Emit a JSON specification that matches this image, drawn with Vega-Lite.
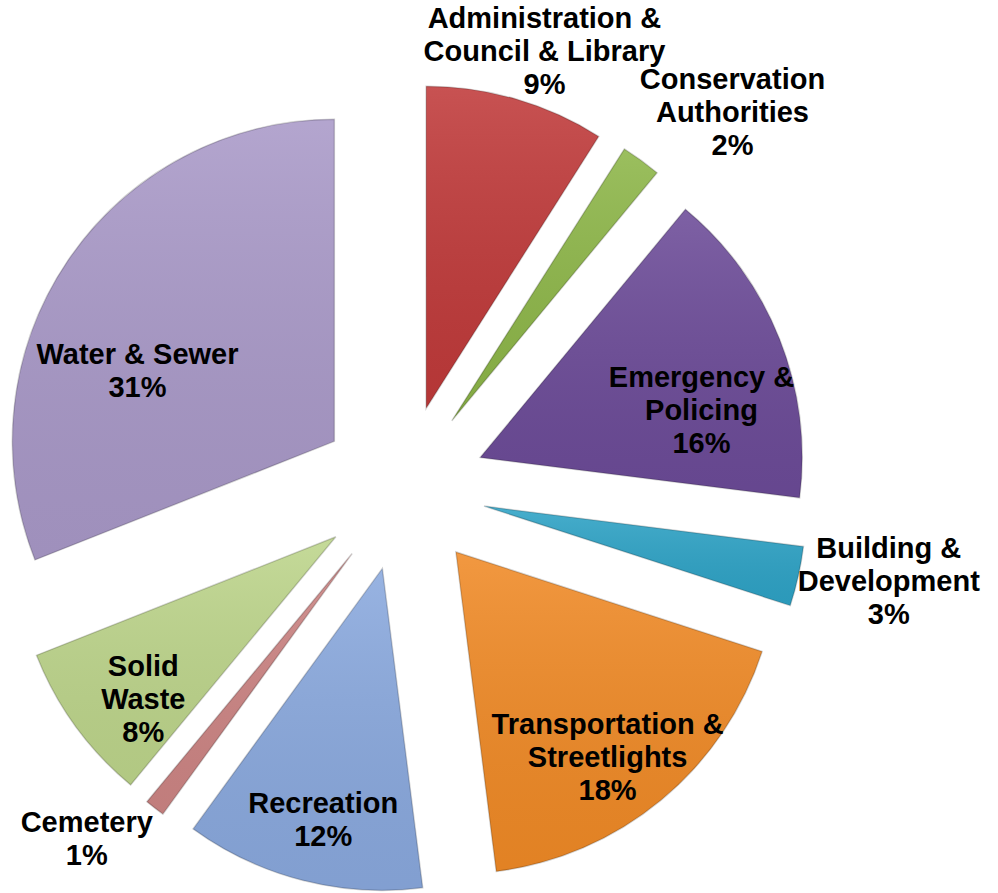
{
  "$schema": "https://vega.github.io/schema/vega-lite/v6.json",
  "width": 998,
  "height": 893,
  "padding": 0,
  "autosize": "none",
  "background": "white",
  "config": {"view": {"stroke": null}},
  "data": {
    "values": [
      {"idx": 1, "category": "Administration &\nCouncil & Library", "share": 9},
      {"idx": 2, "category": "Conservation\nAuthorities", "share": 2},
      {"idx": 3, "category": "Emergency &\nPolicing", "share": 16},
      {"idx": 4, "category": "Building &\nDevelopment", "share": 3},
      {"idx": 5, "category": "Transportation &\nStreetlights", "share": 18},
      {"idx": 6, "category": "Recreation", "share": 12},
      {"idx": 7, "category": "Cemetery", "share": 1},
      {"idx": 8, "category": "Solid\nWaste", "share": 8},
      {"idx": 9, "category": "Water & Sewer", "share": 31}
    ]
  },
  "transform": [
    {"window": [{"op": "sum", "field": "share", "as": "end"}], "sort": [{"field": "idx"}], "frame": [null, 0]},
    {"calculate": "datum.end - datum.share", "as": "start"},
    {"calculate": "(datum.start + datum.share / 2) / 100 * 2 * PI", "as": "mid"},
    {"calculate": "sin(datum.mid)", "as": "s"},
    {"calculate": "-cos(datum.mid)", "as": "c"},
    {"calculate": "83 * datum.s", "as": "ax"},
    {"calculate": "83 * datum.c", "as": "ay"},
    {"calculate": "datum.ax + 322 * datum.s", "as": "ex"},
    {"calculate": "datum.ay + 322 * datum.c", "as": "ey"},
    {"calculate": "indexof(datum.category, '\\n')", "as": "brk"},
    {"calculate": "datum.brk < 0 ? 2 : 3", "as": "nlines"},
    {"calculate": "datum.brk < 0 ? length(datum.category) : max(datum.brk, length(datum.category) - datum.brk - 1)", "as": "longest"},
    {"calculate": "datum.category + '\\n' + datum.share + '%'", "as": "label"},
    {"calculate": "datum.longest / datum.share > 1.2", "as": "outside"},
    {"calculate": "datum.longest * 7.5", "as": "hw"},
    {"calculate": "datum.nlines * 16.5 - 6", "as": "hh"},
    {"calculate": "min(1, 2.7 * datum.s * datum.s)", "as": "fx"},
    {"calculate": "min(1, 2.7 * datum.c * datum.c)", "as": "fy"},
    {"calculate": "datum.outside ? datum.ex + (datum.s < 0 ? -1 : 1) * (datum.hw + 8) * datum.fx : datum.ax + 238 * datum.s", "as": "lx"},
    {"calculate": "datum.outside ? datum.ey + (datum.c < 0 ? -1 : 1) * (datum.hh + 4) * datum.fy : (datum.c < 0 ? datum.ay + 125 * datum.c : datum.ay + 236 * datum.c + 24)", "as": "lcy"},
    {"calculate": "datum.lcy - (datum.nlines - 1) * 16.5", "as": "ly"}
  ],
  "encoding": {
    "x": {"field": "ax", "type": "quantitative", "axis": null, "scale": {"domain": [-403, 595], "nice": false, "zero": false}},
    "y": {"field": "ay", "type": "quantitative", "axis": null, "scale": {"domain": [-488, 405], "nice": false, "zero": false, "reverse": true}}
  },
  "layer": [
    {
      "mark": {"type": "arc", "outerRadius": 322, "innerRadius": 0},
      "encoding": {
        "theta": {"field": "start", "type": "quantitative", "stack": null, "scale": {"domain": [0, 100], "range": [0, 6.283185307179586]}},
        "theta2": {"field": "end"},
        "color": {
          "field": "category",
          "type": "nominal",
          "legend": null,
          "scale": {
            "domain": ["Administration &\nCouncil & Library", "Conservation\nAuthorities", "Emergency &\nPolicing", "Building &\nDevelopment", "Transportation &\nStreetlights", "Recreation", "Cemetery", "Solid\nWaste", "Water & Sewer"],
            "range": ["#C03A3A", "#8DB648", "#6C4B98", "#2EA3C6", "#F08A26", "#8AA9DE", "#CD8584", "#BDD58B", "#A999C8"]
          }
        }
      }
    },
    {
      "mark": {
        "type": "arc",
        "outerRadius": 322,
        "innerRadius": 0,
        "fill": {
          "gradient": "linear",
          "x1": 0, "y1": 0, "x2": 0, "y2": 1,
          "stops": [
            {"offset": 0, "color": "rgba(255,255,255,0.12)"},
            {"offset": 1, "color": "rgba(0,0,0,0.06)"}
          ]
        },
        "stroke": "#000000",
        "strokeOpacity": 0.18,
        "strokeWidth": 1.5
      },
      "encoding": {
        "theta": {"field": "start", "type": "quantitative", "stack": null},
        "theta2": {"field": "end"}
      }
    },
    {
      "mark": {
        "type": "text",
        "font": "Liberation Sans",
        "fontWeight": "bold",
        "fontSize": 29,
        "lineHeight": 33,
        "lineBreak": "\n",
        "align": "center",
        "baseline": "middle",
        "color": "#000000"
      },
      "encoding": {
        "x": {"field": "lx", "type": "quantitative"},
        "y": {"field": "ly", "type": "quantitative"},
        "text": {"field": "label", "type": "nominal"}
      }
    }
  ]
}
